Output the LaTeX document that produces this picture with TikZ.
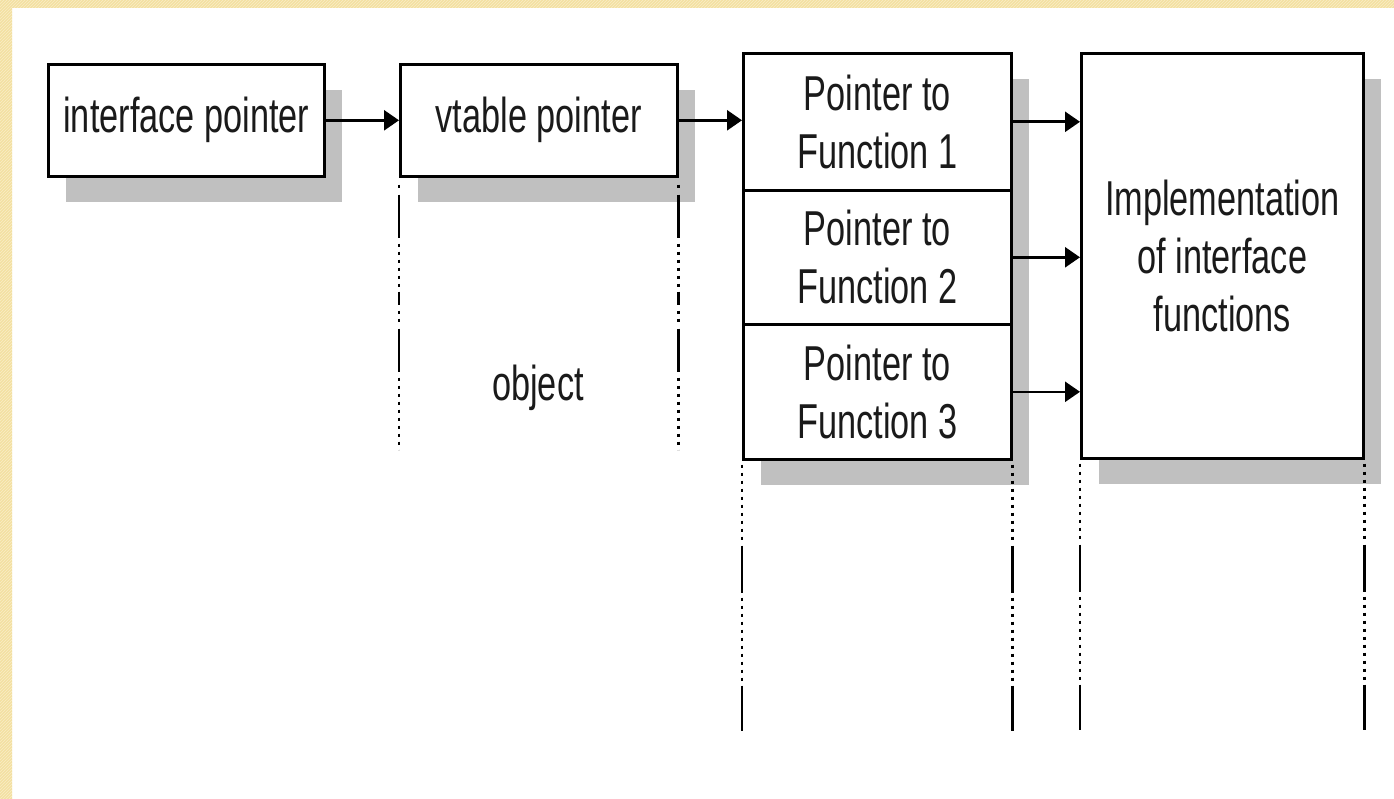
\documentclass[tikz,border=0pt]{standalone}
\usepackage{fontspec}
\setmainfont[FakeStretch=0.7]{Liberation Sans}
\usetikzlibrary{arrows.meta, shadows, patterns}
\definecolor{kem}{HTML}{F3E0A2}
\definecolor{kemnhat}{HTML}{FAEDC6}
\definecolor{bongxam}{HTML}{C0C0C0}
\definecolor{chu}{HTML}{1A1A1A}
\tikzset{
  hop/.style={draw, line width=2.6pt, fill=white, rectangle, inner sep=0pt,
    anchor=north west, align=center, text=chu, font=\fontsize{49}{58}\selectfont,
    drop shadow={shadow xshift=18pt, shadow yshift=-26pt, fill=bongxam, opacity=1}},
  % gióng dưới vtable pointer
  giongtren/.style={line width=2.8pt,
    dash pattern=on 3pt off 7pt on 43pt off 6pt on 3pt off 5pt on 3pt off 5pt on 3pt off 5pt
      on 3pt off 5pt on 3pt off 5pt on 3pt off 5pt on 13pt off 6pt on 3pt off 5pt on 3pt off 7pt
      on 43pt off 6pt on 3pt off 5pt on 3pt off 5pt on 3pt off 5pt on 3pt off 5pt on 3pt off 5pt
      on 3pt off 5pt on 3pt off 5pt on 3pt off 5pt on 3pt off 5pt},
  % gióng dưới bảng hàm
  giongduoi/.style={line width=2.8pt,
    dash pattern=on 3pt off 5pt on 3pt off 5pt on 3pt off 5pt on 3pt off 5pt on 3pt off 5pt
      on 3pt off 5pt on 3pt off 5pt on 3pt off 5pt on 3pt off 5pt on 3pt off 6pt on 47pt off 5pt
      on 3pt off 5pt on 3pt off 5pt on 3pt off 5pt on 3pt off 5pt on 3pt off 5pt on 3pt off 5pt
      on 3pt off 5pt on 3pt off 5pt on 3pt off 5pt on 3pt off 5pt on 3pt off 5pt on 50pt off 5pt}
}
\begin{document}
\begin{tikzpicture}[x=1pt, y=-1pt, >={Triangle[length=15pt, width=20pt]}]
            \useasboundingbox (0,0) rectangle (1394,799);
            % Nền
            \fill[white] (0,0) rectangle (1394,799);
            \fill[kem] (0,0) rectangle (12,799) (0,0) rectangle (1394,8);
            \fill[pattern=north east lines, pattern color=kemnhat] (0,0) rectangle (12,799) (0,0) rectangle (1394,8);

            % Con trỏ giao diện và vtable
            \node[hop, minimum width=276pt, minimum height=112pt] (ifptr) at (47,63) {interface pointer};
            \node[hop, minimum width=277pt, minimum height=112pt] (vtptr) at (399,63) {vtable pointer};
            \node[text=chu, font=\fontsize{49}{58}\selectfont] (obj) at (538,388) {object};

            % Bảng vtable
            \node[hop, minimum width=268pt, minimum height=137pt] (fn1) at (742,52) {Pointer to\\Function 1};
            \node[hop, minimum width=268pt, minimum height=134pt] (fn2) at (742,189) {Pointer to\\Function 2};
            \node[hop, minimum width=268pt, minimum height=135pt] (fn3) at (742,323) {Pointer to\\Function 3};
            \node[hop, minimum width=282pt, minimum height=405pt] (impl) at (1080,52) {Implementation\\of interface\\functions};

            % Mũi tên
            \draw[line width=2.6pt, ->] (ifptr) -- (vtptr);
            \draw[line width=2.6pt, ->] (vtptr.east) -- (vtptr.east -| fn1.west);
            \draw[line width=2.6pt, ->] (fn1) -- (fn1 -| impl.west);
            \draw[line width=2.6pt, ->] (fn2) -- (fn2 -| impl.west);
            \draw[line width=2.6pt, ->] (fn3) -- (fn3 -| impl.west);

            % Đường gióng
            \draw[giongtren] (vtptr.south west) ++(0,7) -- ++(0,265);
            \draw[giongtren] (vtptr.south east) ++(0,7) -- ++(0,265);
            \draw[giongduoi] (fn3.south west) ++(0,4) -- ++(0,266);
            \draw[giongduoi] (fn3.south east) ++(0,4) -- ++(0,266);
            \draw[giongduoi] (impl.south west) ++(0,4) -- ++(0,266);
            \draw[giongduoi] (impl.south east) ++(0,4) -- ++(0,266);
        \end{tikzpicture}
\end{document}
